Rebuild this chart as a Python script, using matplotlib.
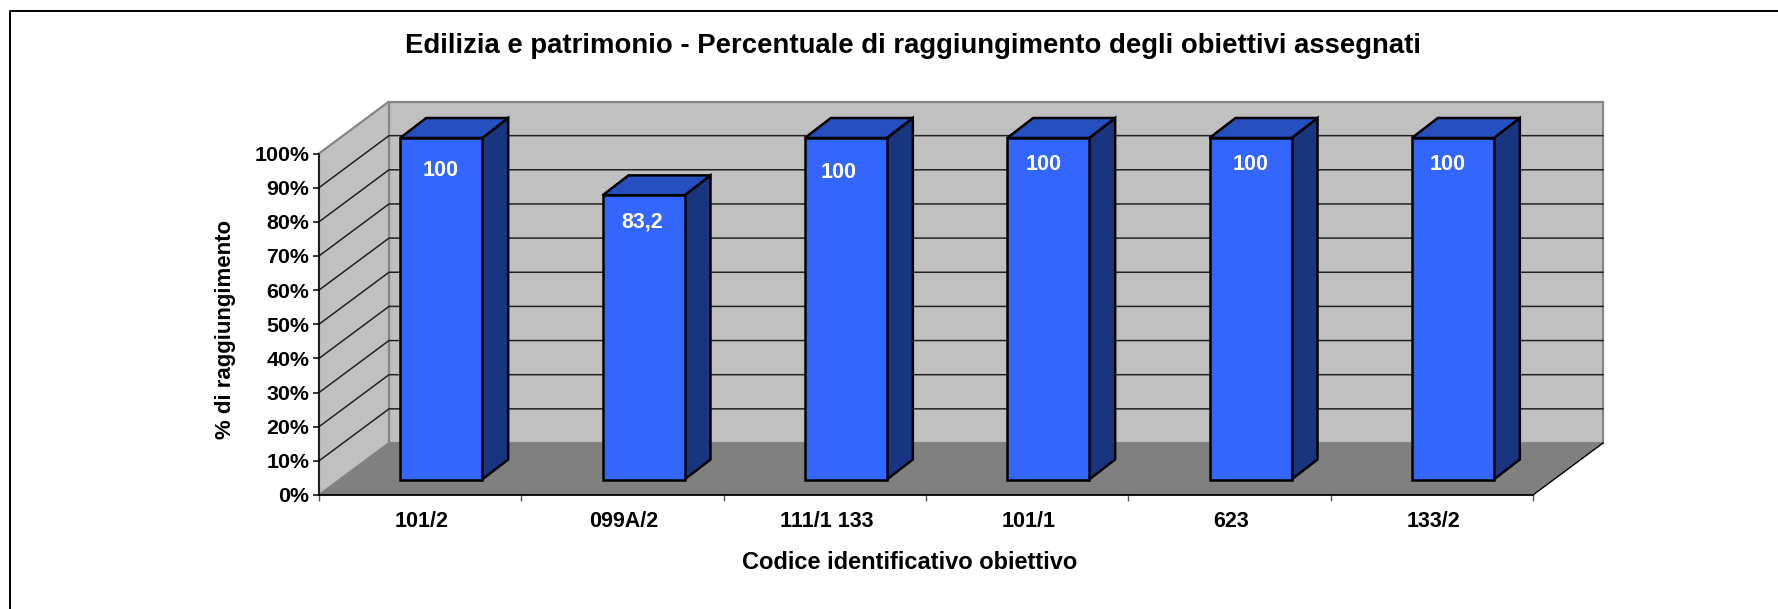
import matplotlib
matplotlib.use('Agg')
import matplotlib.pyplot as plt
from matplotlib.lines import Line2D
from matplotlib.patches import Polygon

# Data
categories = ['101/2', '099A/2', '111/1 133', '101/1', '623', '133/2']
values = [100, 83.2, 100, 100, 100, 100]
value_labels = ['100', '83,2', '100', '100', '100', '100']
y_ticks = [0, 10, 20, 30, 40, 50, 60, 70, 80, 90, 100]

# Figure size in pixels
W, H = 1778, 609

plt.rcParams['font.family'] = ['Liberation Sans', 'DejaVu Sans']
plt.rcParams['font.weight'] = 'bold'

fig = plt.figure(figsize=(W / 100, H / 100), dpi=100, facecolor='white')

# Outer frame of the chart: only left and top show
fig.add_artist(Line2D([9.5 / W, 9.5 / W, 1], [0, 1 - 11 / H, 1 - 11 / H], transform=fig.transFigure,
                      color='black', linewidth=1.4))

# Axes sit on the front plane of the 3D box
left, right, top, bottom = 319, 1533, 153.5, 495
ax = fig.add_axes([left / W, 1 - bottom / H, (right - left) / W, (bottom - top) / H])
ax.set_xlim(0, len(categories))
ax.set_ylim(0, 100)
ax.patch.set_visible(False)
for side in ['top', 'right']:
    ax.spines[side].set_visible(False)
ax.spines['left'].set_linewidth(1.1)
ax.spines['bottom'].set_linewidth(1.3)

# Depth of the box and of the bars in data units
cat_px = (right - left) / len(categories)
pct_px = (bottom - top) / 100
depth_x = 70 / cat_px
depth_y = 52 / pct_px


def poly(points, **kw):
    ax.add_patch(Polygon(points, closed=True, clip_on=False, **kw))


n = len(categories)
wall = '#c0c0c0'
wall_edge = '#868686'

# Back wall, side wall and floor
poly([(depth_x, depth_y), (n + depth_x, depth_y), (n + depth_x, 100 + depth_y), (depth_x, 100 + depth_y)],
     facecolor=wall, edgecolor=wall_edge, linewidth=1.6, zorder=1)
poly([(0, 0), (depth_x, depth_y), (depth_x, 100 + depth_y), (0, 100)],
     facecolor=wall, edgecolor=wall_edge, linewidth=1.6, zorder=1)
poly([(0, 0), (n, 0), (n + depth_x, depth_y), (depth_x, depth_y)], facecolor='#808080', edgecolor='none', zorder=1.5)
ax.plot([n, n + depth_x], [0, depth_y], color='black', linewidth=1, clip_on=False, zorder=2)

# Gridlines on both walls
for t in y_ticks[1:-1]:
    ax.plot([0, depth_x, n + depth_x], [t, t + depth_y, t + depth_y], color='#222222', linewidth=1.1,
            clip_on=False, zorder=2)

# Bars
bar_w = 82 / cat_px
bar_dx = 26 / cat_px
bar_dy = 20 / pct_px
shift_x = 21 / cat_px
shift_y = 15.5 / pct_px
label_nudge = [-1, -1, -7, -5, 0, -5]
label_drop = [33, 27, 34, 26, 26, 26]
for i, v in enumerate(values):
    x0 = i + 0.5 + shift_x - bar_w / 2
    x1 = x0 + bar_w
    y0 = shift_y
    y1 = shift_y + v
    style = dict(edgecolor='black', linewidth=1.8, joinstyle='miter', zorder=3)
    poly([(x1, y0), (x1 + bar_dx, y0 + bar_dy), (x1 + bar_dx, y1 + bar_dy), (x1, y1)], facecolor='#1a3580', **style)
    poly([(x0, y1), (x1, y1), (x1 + bar_dx, y1 + bar_dy), (x0 + bar_dx, y1 + bar_dy)], facecolor='#2650c0', **style)
    poly([(x0, y0), (x1, y0), (x1, y1), (x0, y1)], facecolor='#3366ff', **style)
    ax.text((x0 + x1) / 2 + label_nudge[i] / cat_px, y1 - label_drop[i] / pct_px, value_labels[i],
            color='white', fontsize=15.5, ha='center', va='center', zorder=4)

# Ticks and labels
ax.set_yticks(y_ticks)
ax.set_yticklabels([str(t) + '%' for t in y_ticks], fontsize=15.4)
ax.set_xticks(range(n + 1))
ax.set_xticklabels([])
ax.tick_params(axis='y', length=4.5, width=1.1, pad=2.5)
ax.tick_params(axis='x', length=4, width=1, color='#555555')
for i, c in enumerate(categories):
    ax.text(i + 0.5 + 1.5 / cat_px, -7.8, c, fontsize=15.5, ha='center', va='center')

fig.text(913 / W, 1 - 46 / H, 'Edilizia e patrimonio - Percentuale di raggiungimento degli obiettivi assegnati',
         fontsize=19.8, ha='center', va='center')
fig.text(910 / W, 1 - 562.5 / H, 'Codice identificativo obiettivo', fontsize=17, ha='center', va='center')
fig.text(226 / W, 1 - 329 / H, '% di raggiungimento', fontsize=16, rotation=90, ha='center', va='center')

fig.savefig('out.png', dpi=100)
